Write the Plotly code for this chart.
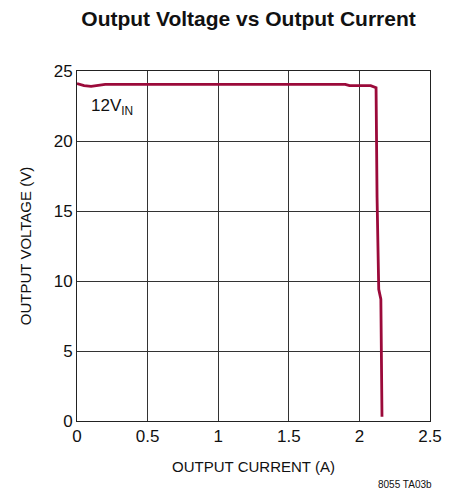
import plotly.graph_objects as go

# Output voltage vs load current, 12V input
current_a = [0, 0.05, 0.1, 0.2, 1.9, 1.93, 2.08, 2.1, 2.118, 2.125, 2.137, 2.152, 2.16]
voltage_v = [24.1, 23.95, 23.9, 24.05, 24.05, 23.95, 23.95, 23.85, 23.8, 16.0, 9.4, 8.7, 0.3]

x_ticks = [0, 0.5, 1, 1.5, 2, 2.5]
x_tick_text = ["0", "0.5", "1", "1.5", "2", "2.5"]
y_ticks = [0, 5, 10, 15, 20, 25]

FONT = "Liberation Sans, Arial, sans-serif"

fig = go.Figure()
fig.add_trace(go.Scatter(
    x=current_a, y=voltage_v, mode="lines",
    line=dict(color="#9b0a3a", width=2.8),
    showlegend=False, hoverinfo="skip",
))

axis_common = dict(
    showgrid=True, gridcolor="#333333", gridwidth=1,
    showline=True, linecolor="#222222", linewidth=1, mirror=True,
    zeroline=False, ticks="", tickfont=dict(family=FONT, size=17, color="#111"),
)

fig.update_layout(
    width=456, height=491,
    margin=dict(l=77, r=26, t=71, b=70),
    paper_bgcolor="white", plot_bgcolor="white",
    title=dict(text="<b>Output Voltage vs Output Current</b>",
               x=0.545, xanchor="center", y=0.963, yanchor="middle",
               font=dict(family=FONT, size=21, color="#111")),
    xaxis=dict(range=[0, 2.5], tickvals=x_ticks, ticktext=x_tick_text,
               title=dict(text="OUTPUT CURRENT (A)", standoff=16,
                          font=dict(family=FONT, size=15, color="#111")),
               **axis_common),
    yaxis=dict(range=[0, 25], tickvals=y_ticks,
               title=dict(text="OUTPUT VOLTAGE (V)", standoff=18,
                          font=dict(family=FONT, size=15, color="#111")),
               **axis_common),
)

fig.add_annotation(x=0.25, y=22.4, text="12V<sub>IN</sub>", showarrow=False,
                   xanchor="center", yanchor="middle",
                   font=dict(family=FONT, size=17, color="#111"))
fig.add_annotation(x=1.0, y=0, xref="paper", yref="paper", yshift=-63, xshift=4,
                   text="8055 TA03b", showarrow=False,
                   xanchor="right", yanchor="middle",
                   font=dict(family=FONT, size=10, color="#111"))

fig.write_html("out.html")
